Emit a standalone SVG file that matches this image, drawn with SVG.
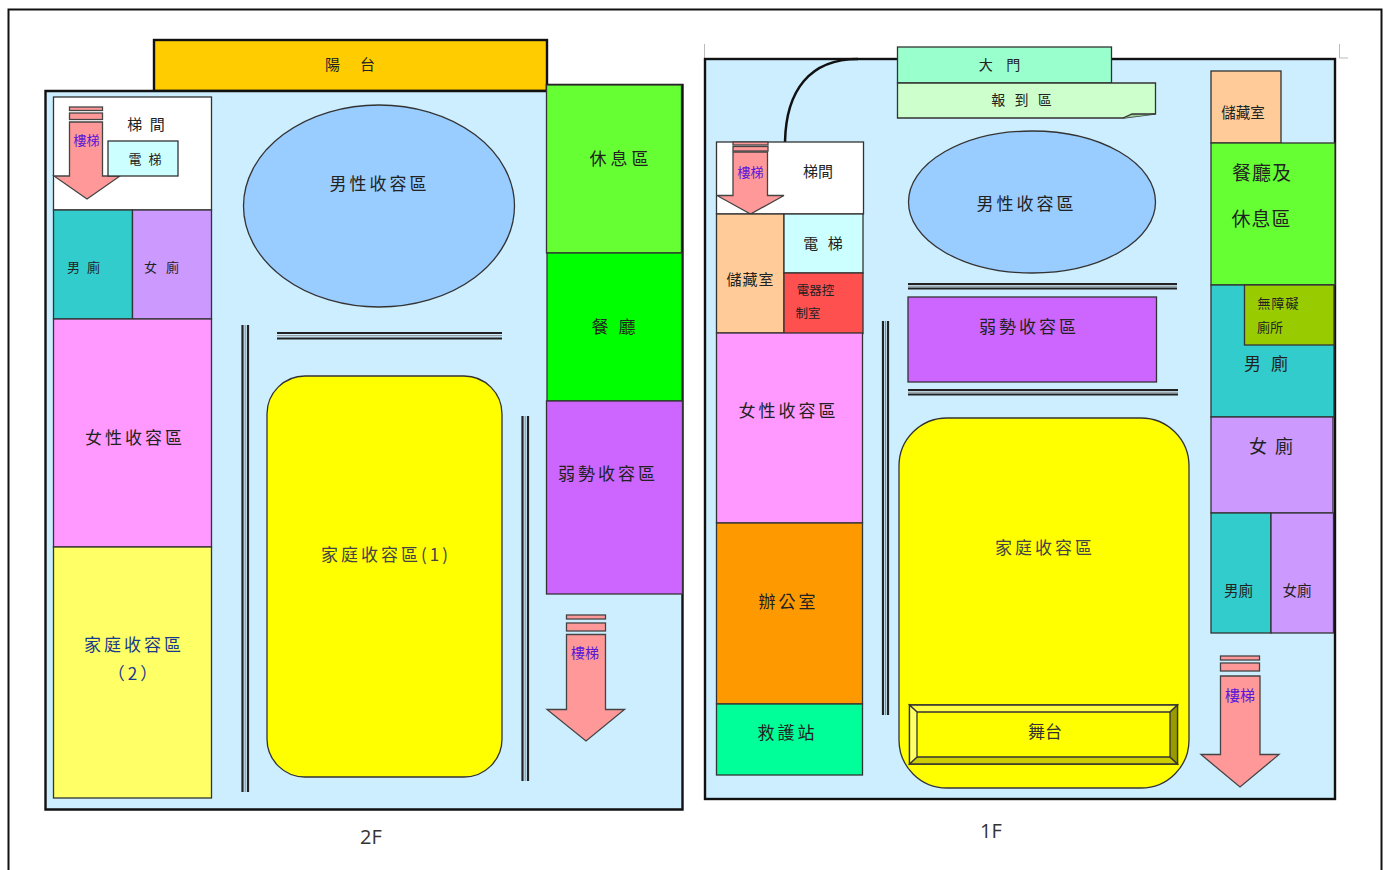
<svg xmlns="http://www.w3.org/2000/svg" width="1389" height="870" viewBox="0 0 1389 870">
<style>
text{font-family:"Noto Sans CJK TC","Noto Sans CJK SC",sans-serif;fill:#222;text-anchor:middle;font-weight:400}
.s{stroke:#333;stroke-width:1.3}
.b{stroke:#111;stroke-width:2.4}
.f{font-family:"Open Sans","Liberation Sans",sans-serif;font-size:20px;fill:#333}
.st{fill:#5a18d8}
.a{fill:#ff9999;stroke:#444;stroke-width:1.3}
.l1{letter-spacing:1px}
.l2{letter-spacing:2px}
.l3{letter-spacing:3px}
.l4{letter-spacing:4px}
.ww{stroke:#222;stroke-width:2.200;fill:none}
.wc{stroke:#888;stroke-width:1;fill:none}
</style>
<rect id="frame" x="8.5" y="9.5" width="1373" height="880" fill="#fff" stroke="#111" stroke-width="2"/>
<g id="corner-marks" fill="none" stroke="#bbb" stroke-width="1"><path d="M704.500 44V58"/><path d="M1339.500 44V58H1348"/></g>

<g id="floor-2f">
<rect id="balcony2" x="154" y="40" width="393" height="51" fill="#ffcc00" class="b"/>
<text x="350" y="70" font-size="15" xml:space="preserve">陽      台</text>
<path id="bg2" d="M45.500 91H547V85H682.500V809.500H45.500Z" fill="#cceeff" class="b"/>
<g id="stairhall2"><rect x="53.500" y="97" width="158" height="113" fill="#fff" class="s"/><text class="l2" x="147" y="130" font-size="15">梯 間</text></g>
<g id="stair2a"><rect x="69.500" y="107" width="33" height="3.500" class="a"/><rect x="69.500" y="113" width="33" height="6.500" class="a"/><path d="M69.500 122H102.500V176H120L87 199 54 176H69.500Z" class="a"/><text class="st" x="86.500" y="145" font-size="13">樓梯</text></g>
<g id="elev2"><rect x="108" y="141" width="70" height="35" fill="#ccffff" class="s"/><text class="l2" x="146" y="164" font-size="13">電 梯</text></g>
<g id="mwc2"><rect x="53.500" y="210" width="79" height="109" fill="#33cccc" class="s"/><text class="l2" x="84.500" y="272" font-size="13">男 廁</text></g>
<g id="fwc2"><rect x="132.500" y="210" width="79" height="109" fill="#cc99ff" class="s"/><text class="l3" x="163" y="272" font-size="13">女 廁</text></g>
<g id="women2"><rect x="53.500" y="319" width="158" height="228" fill="#ff99ff" class="s"/><text class="l3" x="135" y="444" font-size="17">女性收容區</text></g>
<g id="fam22"><rect x="53.500" y="547" width="158" height="251" fill="#ffff66" class="s"/><text class="l3" x="134" y="651" font-size="17" style="fill:#1a3a8c">家庭收容區</text><text class="l3" x="134" y="680" font-size="17" style="fill:#1a3a8c">（2）</text></g>
<g id="men2"><ellipse cx="379" cy="206" rx="135.500" ry="101" fill="#99ccff" class="s"/><text class="l3" x="379.500" y="190" font-size="17">男性收容區</text></g>
<g id="fam2"><rect x="267" y="376" width="235" height="401" rx="38" fill="#ffff00" class="s"/><text class="l3" x="386" y="561" font-size="17" style="fill:#444">家庭收容區(1)</text></g>
<g id="rest2"><rect x="546.500" y="85" width="135" height="168" fill="#66ff33" class="s"/><text class="l4" x="621" y="165" font-size="17">休息區</text></g>
<g id="dining2"><rect x="547" y="253" width="135" height="148" fill="#00ff00" class="s"/><text class="l3" x="615" y="333" font-size="17">餐 廳</text></g>
<g id="vuln2"><rect x="546.500" y="401" width="136" height="193" fill="#cc66ff" class="s"/><text class="l3" x="608" y="480" font-size="17">弱勢收容區</text></g>
<g id="stair2b"><rect x="566.500" y="615" width="39" height="4" class="a"/><rect x="566.500" y="623" width="39" height="8" class="a"/><path d="M566.500 634.500H605.500V709.500H624.500L586 741 547 709.500H566.500Z" class="a"/><text class="st" x="585" y="658" font-size="14">樓梯</text></g>
<g id="walls2"><path class="ww" d="M242.500 325V792M248 325V792M522.500 416V781M528 416V781M277 333H502M277 338.500H502"/><path class="wc" d="M245.200 325V792M525.200 416V781M277 335.700H502"/></g>
<text class="f" x="371" y="844">2F</text>
</g>

<g id="floor-1f">
<rect id="bg1" x="705" y="59" width="630" height="740" fill="#cceeff" class="b"/>
<g id="connectors"><path d="M785 142C786 90 810 59 858 59" fill="none" stroke="#111" stroke-width="2.500"/></g>
<g id="door1"><rect x="897.500" y="47" width="214" height="36" fill="#99ffcc" class="s"/><text class="l1" x="1000" y="70" font-size="14" xml:space="preserve">大   門</text></g>
<g id="reg1"><path d="M897.500 83H1155.500V114L1123 118H897.500Z" fill="#ccffcc" class="s"/><path d="M1123 118L1132 114H1155.500" fill="#99cc99" class="s"/><text class="l3" x="1023" y="105" font-size="14" xml:space="preserve">報 到 區</text></g>
<g id="stairhall1"><rect x="716.500" y="142" width="147" height="72" fill="#fff" class="s"/><text x="818" y="177" font-size="15">梯間</text></g>
<g id="stair1a"><rect x="733" y="142" width="35" height="3" class="a"/><rect x="733" y="146.500" width="35" height="4.500" class="a"/><path d="M733 152H767.500V195.500H784L750.500 214 717 195.500H733Z" class="a"/><text class="st" x="750.500" y="177" font-size="13">樓梯</text></g>
<g id="store1a"><rect x="716.500" y="214" width="67.500" height="119" fill="#ffcc99" class="s"/><text class="l1" x="750.500" y="285" font-size="15">儲藏室</text></g>
<g id="elev1"><rect x="784" y="214" width="79" height="59" fill="#ccffff" class="s"/><text class="l3" x="824.500" y="249" font-size="15">電 梯</text></g>
<g id="ctrl1"><rect x="784" y="273" width="79" height="60.500" fill="#ff5050" class="s"/><text x="815.500" y="295" font-size="12.500">電器控</text><text x="808" y="318" font-size="12.500">制室</text></g>
<g id="women1"><rect x="716.500" y="333" width="146" height="190" fill="#ff99ff" class="s"/><text class="l3" x="788.500" y="417" font-size="17">女性收容區</text></g>
<g id="office1"><rect x="716.500" y="523" width="146" height="181" fill="#ff9900" class="s"/><text class="l3" x="788.500" y="608" font-size="17">辦公室</text></g>
<g id="aid1"><rect x="716.500" y="704" width="146" height="71" fill="#00ff99" class="s"/><text class="l3" x="787.500" y="739" font-size="17">救護站</text></g>
<g id="men1"><ellipse cx="1032" cy="202" rx="123.500" ry="71" fill="#99ccff" class="s"/><text class="l3" x="1026.500" y="210" font-size="17">男性收容區</text></g>
<g id="vuln1"><rect x="908" y="297" width="248.500" height="85" fill="#cc66ff" class="s"/><text class="l3" x="1029" y="333" font-size="17">弱勢收容區</text></g>
<g id="walls1"><path class="ww" d="M908 284H1177M908 288.500H1177M908 390H1178M908 394.500H1178M883 321V715M888 321V715"/><path class="wc" d="M908 286.200H1177M908 392.200H1178M885.500 321V715"/></g>
<g id="fam1"><rect x="899" y="418" width="290" height="370" rx="48" fill="#ffff00" class="s"/><text class="l3" x="1045" y="554" font-size="17" style="fill:#444">家庭收容區</text></g>
<g id="stage1"><rect x="909.500" y="705" width="268" height="59" fill="#ffff00" stroke="#222" stroke-width="1.300"/><path d="M909.500 705H1177.500L1170 712H917Z" fill="#ffff44" class="s"/><path d="M909.500 764H1177.500L1170 757H917Z" fill="#cccc00" class="s"/><path d="M1177.500 705V764L1170 757V712Z" fill="#999900" class="s"/><path d="M909.500 705V764L917 757V712Z" fill="#ffff66" class="s"/><text x="1045" y="738" font-size="17" style="fill:#333">舞台</text></g>
<g id="store1b"><rect x="1211" y="71" width="70" height="72" fill="#ffcc99" class="s"/><text x="1243" y="118" font-size="14.500">儲藏室</text></g>
<g id="dining1"><rect x="1211" y="143" width="124" height="142" fill="#66ff33" class="s"/><text class="l1" x="1262" y="180" font-size="19">餐廳及</text><text class="l1" x="1261.500" y="226" font-size="19">休息區</text></g>
<g id="mwc1"><rect x="1211" y="285" width="123" height="132" fill="#33cccc" class="s"/><text class="l3" x="1267.500" y="370" font-size="17">男 廁</text></g>
<g id="acc1"><rect x="1244.500" y="285" width="89.500" height="60" fill="#99cc00" class="s"/><text class="l1" x="1278.500" y="308" font-size="13">無障礙</text><text x="1270" y="332" font-size="13">廁所</text></g>
<g id="fwc1"><rect x="1211" y="417" width="122" height="96" fill="#cc99ff" class="s"/><text class="l2" x="1272" y="453" font-size="18">女 廁</text></g>
<g id="mwc1b"><rect x="1211" y="513" width="60" height="120" fill="#33cccc" class="s"/><text x="1238.500" y="596" font-size="14.500">男廁</text></g>
<g id="fwc1b"><rect x="1271" y="513" width="62.500" height="120" fill="#cc99ff" class="s"/><text x="1297" y="596" font-size="14.500">女廁</text></g>
<g id="stair1b"><rect x="1220.500" y="656" width="39" height="4" class="a"/><rect x="1220.500" y="663" width="39" height="8" class="a"/><path d="M1220.500 676H1260V754.500H1279L1240 787 1201 754.500H1220.500Z" class="a"/><text class="st" x="1240" y="701" font-size="15">樓梯</text></g>
<text class="f" x="991" y="838">1F</text>
</g>
</svg>
